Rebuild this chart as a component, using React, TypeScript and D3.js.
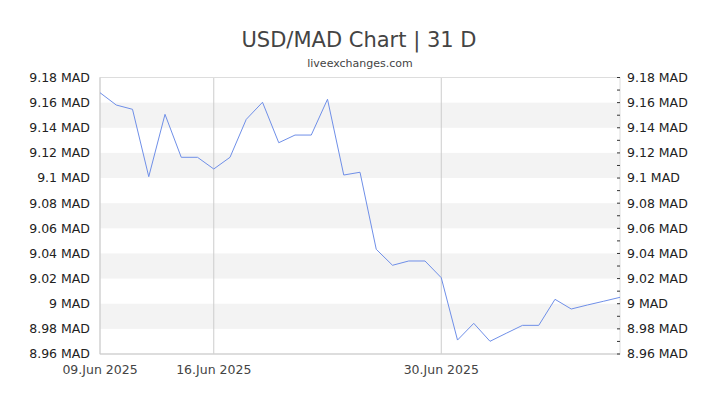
import React from "react";
import * as d3 from "d3";

const startDate = new Date(2025, 5, 9);
const rates: number[] = [
  9.1679, 9.1581, 9.1547, 9.1011, 9.1507, 9.1165, 9.1165, 9.1072, 9.1165, 9.1467,
  9.1603, 9.1281, 9.1342, 9.1342, 9.1627, 9.1024, 9.1046, 9.0433, 9.0306, 9.034,
  9.034, 9.0207, 8.9711, 8.9844, 8.9701, 8.9765, 8.9828, 8.9828, 9.0035, 8.9958,
  8.999, 9.002, 9.0051,
];
const yTicks: number[] = [8.96, 8.98, 9.0, 9.02, 9.04, 9.06, 9.08, 9.1, 9.12, 9.14, 9.16, 9.18];
const xTickDates: Date[] = [new Date(2025, 5, 9), new Date(2025, 5, 16), new Date(2025, 5, 30)];
const title = "USD/MAD Chart | 31 D";
const subtitle = "liveexchanges.com";

const W = 720;
const H = 405;
const L = 100;
const R = 620;
const T = 77.5;
const B = 354;

export default function App() {
  const dates = rates.map((_, i) => d3.timeDay.offset(startDate, i));
  const x = d3.scaleTime().domain([dates[0], dates[dates.length - 1]]).range([L, R]);
  const y = d3.scaleLinear().domain([8.96, 9.18]).range([B, T]);
  const line = d3
    .line<number>()
    .x((_, i) => x(dates[i]))
    .y((d) => y(d));
  const fmtY = (v: number) => `${d3.format("")(+v.toFixed(2))} MAD`;
  const fmtX = d3.timeFormat("%d.%b %Y");
  const minor = d3.range(0, 23).map((i) => 8.96 + i * 0.01);
  const font = "'DejaVu Sans', sans-serif";
  return (
    <svg
      width={W}
      height={H}
      style={{ position: "absolute", left: 0, top: 0, background: "#fff" }}
      fontFamily={font}
    >
      <text x={359} y={47} textAnchor="middle" fontSize={21} fill="#444">
        {title}
      </text>
      <text x={360} y={67} textAnchor="middle" fontSize={11} fill="#444">
        {subtitle}
      </text>
      {yTicks.slice(0, -1).map((v, i) =>
        i % 2 === 1 ? (
          <rect key={"b" + v} x={L} width={R - L} y={y(v + 0.02)} height={y(v) - y(v + 0.02)} fill="#f3f3f3" />
        ) : null
      )}
      {xTickDates.slice(1).map((d) => (
        <line key={"g" + d.getTime()} x1={x(d)} x2={x(d)} y1={T} y2={B} stroke="#ccc" strokeWidth={1} />
      ))}
      <rect x={L} y={T} width={R - L} height={B - T} fill="none" stroke="#ddd" strokeWidth={1} />
      <line x1={L} x2={L} y1={T} y2={B} stroke="#ccc" />
      <line x1={L} x2={R} y1={B} y2={B} stroke="#ccc" />
      {minor.map((v) => (
        <line key={"t" + v} x1={R - 3} x2={R} y1={y(v)} y2={y(v)} stroke="#333" strokeWidth={1} />
      ))}
      <path d={line(rates) || ""} fill="none" stroke="#6f8fe8" strokeWidth={1} />
      {yTicks.map((v) => (
        <g key={"l" + v}>
          <text x={90} y={y(v)} dy="0.35em" textAnchor="end" fontSize={12.5} fill="#222">
            {fmtY(v)}
          </text>
          <text x={627} y={y(v)} dy="0.35em" textAnchor="start" fontSize={12.5} fill="#222">
            {fmtY(v)}
          </text>
        </g>
      ))}
      {xTickDates.map((d) => (
        <text key={"x" + d.getTime()} x={x(d)} y={374} textAnchor="middle" fontSize={12.5} fill="#444">
          {fmtX(d)}
        </text>
      ))}
    </svg>
  );
}
